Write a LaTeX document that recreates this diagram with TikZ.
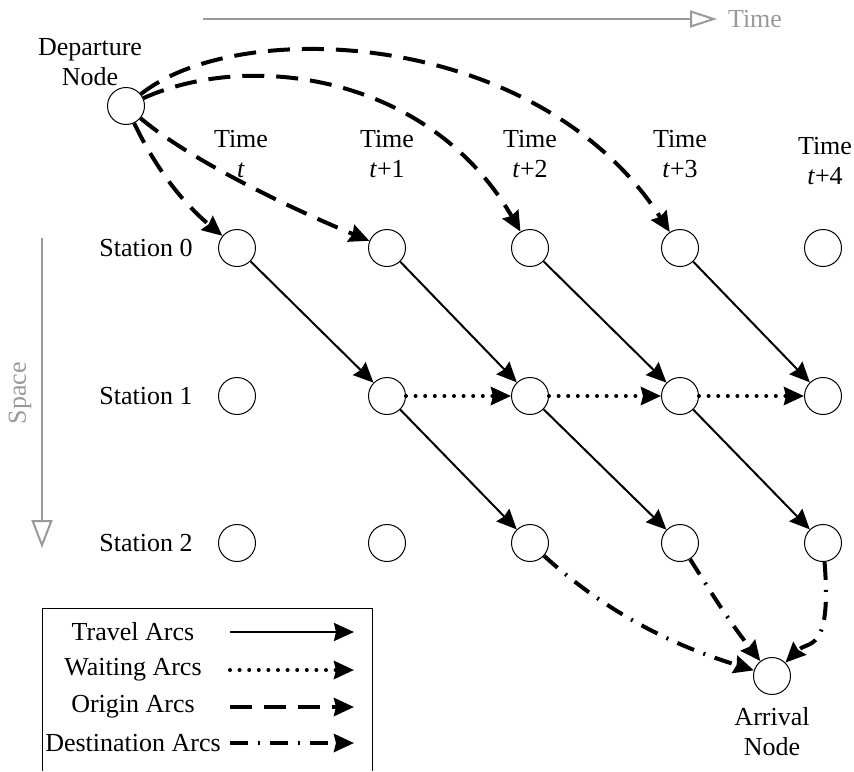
\documentclass[tikz,border=0pt]{standalone}
\usepackage{fontspec}
\setmainfont{Liberation Serif}
\usetikzlibrary{arrows.meta}
\tikzset{
  vertex/.style={circle,draw,line width=0.5pt,fill=white,minimum size=18.5pt,inner sep=0pt},
  lbl/.style={align=center,inner sep=0pt},
  tip/.style={-{Stealth[length=10pt,width=9pt,inset=1pt]}},
  travel/.style={tip,line width=1pt},
  waiting/.style={tip,line width=2pt,line cap=round,dash pattern=on 0pt off 4.8pt},
  origin/.style={tip,line width=2pt,dash pattern=on 11pt off 6pt},
  destination/.style={tip,line width=2pt,dash pattern=on 9pt off 5pt on 1pt off 5pt},
  axis/.style={draw=gray!80,line width=1pt},
}
\begin{document}
\begin{tikzpicture}[x=0.5pt,y=-0.5pt,font=\fontsize{13}{15}\selectfont]
  \useasboundingbox (0,0) rectangle (854,771);
  % axes
  \begin{scope}[axis]
    \coordinate (tstart) at (203,19);
    \coordinate (tend) at (717,19);
    \draw[-{Triangle[open,length=13.5pt,width=8.5pt]}] (tstart) -- (tend);
    \node[lbl,text=gray!80] (tlabel) at (755,19) {Time};
    \coordinate (sstart) at (42,238);
    \coordinate (send) at (42,548);
    \draw[-{Triangle[open,length=14pt,width=10.5pt]}] (sstart) -- (send);
    \node[lbl,text=gray!80,rotate=90] (slabel) at (20,393) {Space};
  \end{scope}
  % grid of station nodes
  \foreach \c/\x in {0/237,1/387,2/530,3/680,4/823}
    \foreach \r/\y in {0/248,1/396,2/543}
      \node[vertex] (v\c\r) at (\x,\y) {};
  \foreach \r/\y in {0/248,1/396,2/543}
    \node[lbl] (st\r) at (146,\y) {Station \r};
  \node[lbl] (tm0) at (241,154) {Time\\\textit{t}};
  \node[lbl] (tm1) at (387,154) {Time\\\textit{t}+1};
  \node[lbl] (tm2) at (530,154) {Time\\\textit{t}+2};
  \node[lbl] (tm3) at (680,154) {Time\\\textit{t}+3};
  \node[lbl] (tm4) at (825,161) {Time\\\textit{t}+4};
  % departure and arrival
  \node[vertex] (dep) at (126,106) {};
  \node[lbl] (deplabel) at (90,62) {Departure\\Node};
  \node[vertex] (arr) at (772,676) {};
  \node[lbl] (arrlabel) at (772,732) {Arrival\\Node};
  % travel arcs
  \foreach \a/\b in {v00/v11,v10/v21,v20/v31,v30/v41,v11/v22,v21/v32,v31/v42}
    \draw[travel] (\a) -- (\b);
  % waiting arcs
  \foreach \a/\b in {v11/v21,v21/v31,v31/v41}
    \draw[waiting] (\a) -- (\b);
  % origin arcs
  \draw[origin] (dep) .. controls (156,169) and (183,203) .. (v00);
  \draw[origin] (dep) .. controls (195,164) and (304,214) .. (v10);
  \draw[origin] (dep) .. controls (250,50) and (430,75) .. (v20);
  \draw[origin] (dep) .. controls (240,15) and (540,30) .. (v30);
  % destination arcs
  \draw[destination] (v22) .. controls (620,625) and (695,652) .. (arr);
  \draw[destination] (v32) to[out=-58,in=128] (arr);
  \draw[destination] (v42) .. controls (832,655) and (808,640) .. (arr);
  % legend
  \draw[line width=0.5pt] (42,771) |- (372,608) -- (372,771);
  \foreach \s/\t/\y in {travel/Travel Arcs/632,waiting/Waiting Arcs/670,
      origin/Origin Arcs/707,destination/Destination Arcs/743} {
    \node[lbl] (leg\s) at (133,\y) {\t};
    \coordinate (\s a) at (230,\y);
    \coordinate (\s b) at (354,\y);
    \draw[\s] (\s a) -- (\s b);
  }
\end{tikzpicture}
\end{document}
